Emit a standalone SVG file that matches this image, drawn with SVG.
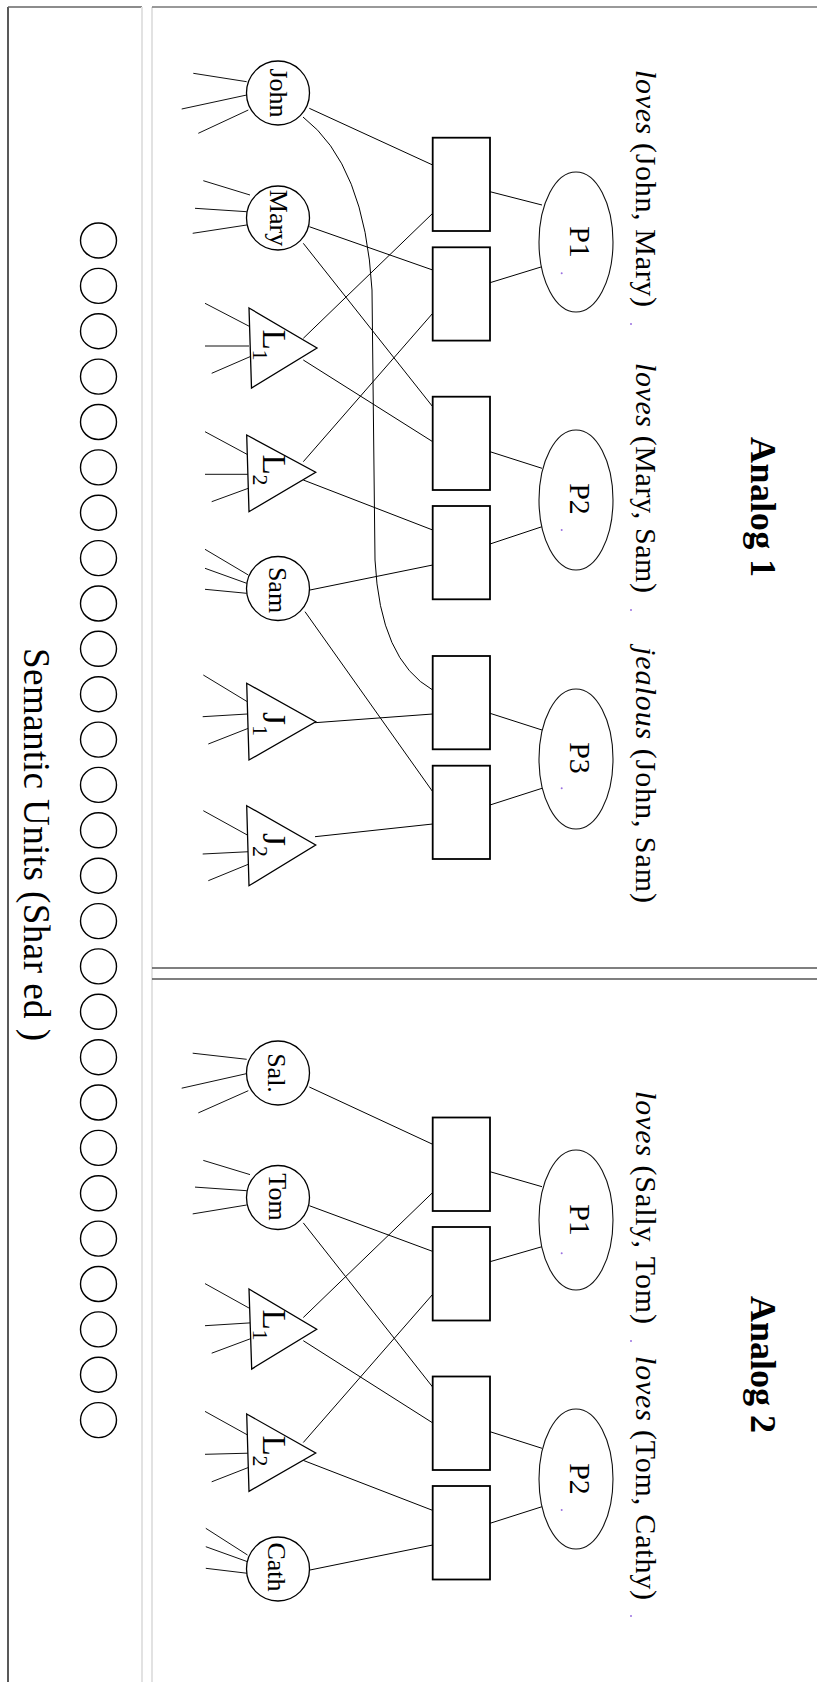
<svg xmlns="http://www.w3.org/2000/svg" width="817" height="1682" viewBox="0 0 817 1682">
<style>
.ln{stroke:#000;stroke-width:1;fill:none}
.fan{stroke:#111;stroke-width:1;fill:none}
.nd{fill:#fff;stroke:#000;stroke-width:1.3}
.pe{fill:#fff;stroke:#111;stroke-width:1.1}
.rc{fill:#fff;stroke:#000;stroke-width:1.8}
.su{fill:#fff;stroke:#000;stroke-width:1.4}
.t{font-family:"Liberation Serif","Times New Roman",serif;fill:#000}
.dot{fill:#9a70e0}
</style>
<rect x="0" y="0" width="817" height="1682" fill="#fff"/>
<g id="frame">
<line x1="8" y1="7" x2="8" y2="1682" stroke="#222" stroke-width="1.5"/>
<line x1="8" y1="7" x2="142" y2="7" stroke="#666" stroke-width="1.5"/>
<line x1="142" y1="7" x2="142" y2="1682" stroke="#e2e2e2" stroke-width="2"/>
<line x1="152" y1="7" x2="152" y2="1682" stroke="#e2e2e2" stroke-width="2"/>
<line x1="152" y1="7" x2="817" y2="7" stroke="#777" stroke-width="1.5"/>
<line x1="152" y1="968" x2="817" y2="968" stroke="#555" stroke-width="1.6"/>
<line x1="152" y1="979" x2="817" y2="979" stroke="#555" stroke-width="1.6"/>
</g>
<g id="semantic-units">
<ellipse class="su" cx="98.5" cy="240.5" rx="18" ry="17.5"/>
<ellipse class="su" cx="98.5" cy="285.9" rx="18" ry="17.5"/>
<ellipse class="su" cx="98.5" cy="331.2" rx="18" ry="17.5"/>
<ellipse class="su" cx="98.5" cy="376.6" rx="18" ry="17.5"/>
<ellipse class="su" cx="98.5" cy="422" rx="18" ry="17.5"/>
<ellipse class="su" cx="98.5" cy="467.4" rx="18" ry="17.5"/>
<ellipse class="su" cx="98.5" cy="512.7" rx="18" ry="17.5"/>
<ellipse class="su" cx="98.5" cy="558.1" rx="18" ry="17.5"/>
<ellipse class="su" cx="98.5" cy="603.5" rx="18" ry="17.5"/>
<ellipse class="su" cx="98.5" cy="648.8" rx="18" ry="17.5"/>
<ellipse class="su" cx="98.5" cy="694.2" rx="18" ry="17.5"/>
<ellipse class="su" cx="98.5" cy="739.6" rx="18" ry="17.5"/>
<ellipse class="su" cx="98.5" cy="784.9" rx="18" ry="17.5"/>
<ellipse class="su" cx="98.5" cy="830.3" rx="18" ry="17.5"/>
<ellipse class="su" cx="98.5" cy="875.7" rx="18" ry="17.5"/>
<ellipse class="su" cx="98.5" cy="921.1" rx="18" ry="17.5"/>
<ellipse class="su" cx="98.5" cy="966.4" rx="18" ry="17.5"/>
<ellipse class="su" cx="98.5" cy="1011.8" rx="18" ry="17.5"/>
<ellipse class="su" cx="98.5" cy="1057.2" rx="18" ry="17.5"/>
<ellipse class="su" cx="98.5" cy="1102.5" rx="18" ry="17.5"/>
<ellipse class="su" cx="98.5" cy="1147.9" rx="18" ry="17.5"/>
<ellipse class="su" cx="98.5" cy="1193.3" rx="18" ry="17.5"/>
<ellipse class="su" cx="98.5" cy="1238.6" rx="18" ry="17.5"/>
<ellipse class="su" cx="98.5" cy="1284" rx="18" ry="17.5"/>
<ellipse class="su" cx="98.5" cy="1329.4" rx="18" ry="17.5"/>
<ellipse class="su" cx="98.5" cy="1374.7" rx="18" ry="17.5"/>
<ellipse class="su" cx="98.5" cy="1420.1" rx="18" ry="17.5"/>
<text class="t" font-size="37" transform="rotate(90)" x="648" y="-24" textLength="393">Semantic Units (Shar ed )</text>
</g>
<g id="titles">
<text class="t" font-size="36" font-weight="bold" transform="rotate(90)" x="437" y="-751" textLength="140">Analog 1</text>
<text class="t" font-size="36" font-weight="bold" transform="rotate(90)" x="1296" y="-751" textLength="137">Analog 2</text>
<text class="t" font-size="30" transform="rotate(90)" x="70" y="-636" textLength="237"><tspan font-style="italic">loves</tspan> (John, Mary)</text>
<text class="t" font-size="30" transform="rotate(90)" x="363" y="-636" textLength="230"><tspan font-style="italic">loves</tspan> (Mary, Sam)</text>
<text class="t" font-size="30" transform="rotate(90)" x="647" y="-636" textLength="256"><tspan font-style="italic">jealous</tspan> (John, Sam)</text>
<text class="t" font-size="30" transform="rotate(90)" x="1091" y="-636" textLength="233"><tspan font-style="italic">loves</tspan> (Sally, Tom)</text>
<text class="t" font-size="30" transform="rotate(90)" x="1356" y="-636" textLength="244"><tspan font-style="italic">loves</tspan> (Tom, Cathy)</text>
<circle class="dot" cx="631" cy="324" r="1"/>
<circle class="dot" cx="631" cy="610" r="1"/>
<circle class="dot" cx="631" cy="1341" r="1"/>
<circle class="dot" cx="631" cy="1616" r="1"/>
</g>
<g id="connectors">
<path class="fan" d="M193.3,73.3L246.7,81.7M181.7,109L246.7,95M198.3,133.3L248.3,110"/>
<path class="fan" d="M203.3,180.7L250,195M195,208.3L246.7,211.7M192.7,233.3L246.7,225"/>
<path class="fan" d="M205,303.3L250,326.7M205,346L249,346M211.7,373.3L250,356.7"/>
<path class="fan" d="M205,431.7L248.3,455M205,474.3L248.3,474.3M211.7,501.7L248.3,488.3"/>
<path class="fan" d="M205,549.3L248.3,575M205,568.3L246.7,583.3M205,589.3L246.7,593.3"/>
<path class="fan" d="M203.3,675L247.3,701.7M202.7,716.7L247.3,714M208.3,744L248.3,728.3"/>
<path class="fan" d="M203.3,810.7L247.3,835M202.7,854L249,851.7M208.3,880.7L249,864"/>
<path class="fan" d="M192.7,1053.2L246.7,1059.3M181.7,1088.2L246.7,1073.6M198.3,1112.9L248.3,1090.7"/>
<path class="fan" d="M203.3,1160.4L250,1174.6M195,1187.1L246.7,1190.7M192.7,1213.9L246.7,1205"/>
<path class="fan" d="M205,1283.6L250,1308.6M205,1325.7L250,1322.9M211.7,1353.2L250,1338.9"/>
<path class="fan" d="M205,1411.4L248.3,1435.4M205,1454.3L248.3,1453.2M211.7,1481.8L248.3,1467.5"/>
<path class="fan" d="M205.8,1528.3L247.5,1555M205.8,1546.7L247.5,1561.7M205.8,1568.3L247.5,1573.3"/>
<path class="ln" d="M309.3,108.3L432.7,165M309.3,226.7L432.7,270M303.3,243.3L432.7,406.7M303.3,338.3L432.7,213.3M303.3,360L432.7,441.7M303.3,461.7L432.7,313.3M303.3,480L432.7,530M310,590L432.7,565M305,611.7L432.7,791.7M315,722.7L432.7,714M315,836.7L432.7,824"/>
<path class="ln" d="M303,117Q365,165 372,290L375,560Q380,660 432.7,690"/>
<path class="ln" d="M490,191.7L542,205M490,282.7L542,266.7M490,451.7L542,468.3M490,544L542,526.7M490,713.3L542,730M490,805L542,788.3"/>
<path class="ln" d="M309.3,1087L432.7,1144.3M309.3,1205.7L432.7,1251.4M303.3,1222.9L432.7,1387.1M303.3,1317.5L432.7,1192.5M303.3,1340.7L432.7,1422.9M303.3,1442.5L432.7,1294.3M303.3,1460.4L432.7,1510.4M310,1570L432.7,1545"/>
<path class="ln" d="M490,1171.7L542,1186.7M490,1261.7L542,1246.7M490,1431.7L542,1448.3M490,1523.3L542,1506.7"/>
</g>
<g id="a1-john"><ellipse class="nd" cx="278" cy="93" rx="31.5" ry="32"/><text class="t" font-size="26" text-anchor="middle" transform="rotate(90)" x="93" y="-270">John</text></g>
<g id="a1-mary"><ellipse class="nd" cx="278" cy="218" rx="31.5" ry="32"/><text class="t" font-size="26" text-anchor="middle" transform="rotate(90)" x="218" y="-270">Mary</text></g>
<g id="a1-sam"><ellipse class="nd" cx="278" cy="588.5" rx="31.5" ry="32"/><text class="t" font-size="26" text-anchor="middle" transform="rotate(90)" x="590" y="-269">Sam</text></g>
<g id="a1-L1"><polygon class="nd" points="249,308 317,348 251.5,388"/><text class="t" font-size="33" text-anchor="middle" transform="rotate(90)" x="345" y="-263">L<tspan font-size="22" dy="10">1</tspan></text></g>
<g id="a1-L2"><polygon class="nd" points="246.7,435 315.7,472.3 249,511.7"/><text class="t" font-size="33" text-anchor="middle" transform="rotate(90)" x="470" y="-263">L<tspan font-size="22" dy="10">2</tspan></text></g>
<g id="a1-J1"><polygon class="nd" points="246.7,683.3 315.7,721.7 249,760"/><text class="t" font-size="33" text-anchor="middle" transform="rotate(90)" x="724" y="-263">J<tspan font-size="22" dy="10">1</tspan></text></g>
<g id="a1-J2"><polygon class="nd" points="246.7,805.7 315.7,845 249,885.7"/><text class="t" font-size="33" text-anchor="middle" transform="rotate(90)" x="845" y="-263">J<tspan font-size="22" dy="10">2</tspan></text></g>
<g id="a1-r1"><rect class="rc" x="432.7" y="137.7" width="57.3" height="93.3"/></g>
<g id="a1-r2"><rect class="rc" x="432.7" y="247.3" width="57.3" height="93.3"/></g>
<g id="a1-r3"><rect class="rc" x="432.7" y="396.7" width="57.3" height="93.3"/></g>
<g id="a1-r4"><rect class="rc" x="432.7" y="506" width="57.3" height="93.3"/></g>
<g id="a1-r5"><rect class="rc" x="432.7" y="656" width="57.3" height="93.3"/></g>
<g id="a1-r6"><rect class="rc" x="432.7" y="765.7" width="57.3" height="93.3"/></g>
<g id="a1-P1"><ellipse class="pe" cx="576" cy="242" rx="37" ry="70"/><text class="t" font-size="30" text-anchor="middle" transform="rotate(90)" x="242" y="-570">P1</text><circle class="dot" cx="561.7" cy="273.3" r="1"/></g>
<g id="a1-P2"><ellipse class="pe" cx="576" cy="500" rx="37" ry="70"/><text class="t" font-size="30" text-anchor="middle" transform="rotate(90)" x="499" y="-570">P2</text><circle class="dot" cx="561.7" cy="530" r="1"/></g>
<g id="a1-P3"><ellipse class="pe" cx="576" cy="759" rx="37" ry="70"/><text class="t" font-size="30" text-anchor="middle" transform="rotate(90)" x="758" y="-570">P3</text><circle class="dot" cx="561.7" cy="788.3" r="1"/></g>
<g id="a2-sal"><ellipse class="nd" cx="278" cy="1073" rx="31.5" ry="32"/><text class="t" font-size="26" text-anchor="middle" transform="rotate(90)" x="1073" y="-268">Sal.</text></g>
<g id="a2-tom"><ellipse class="nd" cx="278" cy="1197.5" rx="31.5" ry="32"/><text class="t" font-size="26" text-anchor="middle" transform="rotate(90)" x="1197" y="-269">Tom</text></g>
<g id="a2-cath"><ellipse class="nd" cx="278" cy="1569" rx="31.5" ry="32"/><text class="t" font-size="26" text-anchor="middle" transform="rotate(90)" x="1567" y="-268">Cath</text></g>
<g id="a2-L1"><polygon class="nd" points="249,1289 316.7,1329.3 251.7,1369"/><text class="t" font-size="33" text-anchor="middle" transform="rotate(90)" x="1325" y="-263">L<tspan font-size="22" dy="10">1</tspan></text></g>
<g id="a2-L2"><polygon class="nd" points="246.7,1414 315.7,1453 249,1491.4"/><text class="t" font-size="33" text-anchor="middle" transform="rotate(90)" x="1451" y="-263">L<tspan font-size="22" dy="10">2</tspan></text></g>
<g id="a2-r1"><rect class="rc" x="432.7" y="1117.5" width="57.3" height="93.5"/></g>
<g id="a2-r2"><rect class="rc" x="432.7" y="1227" width="57.3" height="93.5"/></g>
<g id="a2-r3"><rect class="rc" x="432.7" y="1376.5" width="57.3" height="93.5"/></g>
<g id="a2-r4"><rect class="rc" x="432.7" y="1486" width="57.3" height="93.5"/></g>
<g id="a2-P1"><ellipse class="pe" cx="576" cy="1220" rx="37" ry="70"/><text class="t" font-size="30" text-anchor="middle" transform="rotate(90)" x="1220" y="-570">P1</text><circle class="dot" cx="561.7" cy="1253.3" r="1"/></g>
<g id="a2-P2"><ellipse class="pe" cx="576" cy="1479" rx="37" ry="70"/><text class="t" font-size="30" text-anchor="middle" transform="rotate(90)" x="1479" y="-570">P2</text><circle class="dot" cx="561.7" cy="1510" r="1"/></g>
</svg>
